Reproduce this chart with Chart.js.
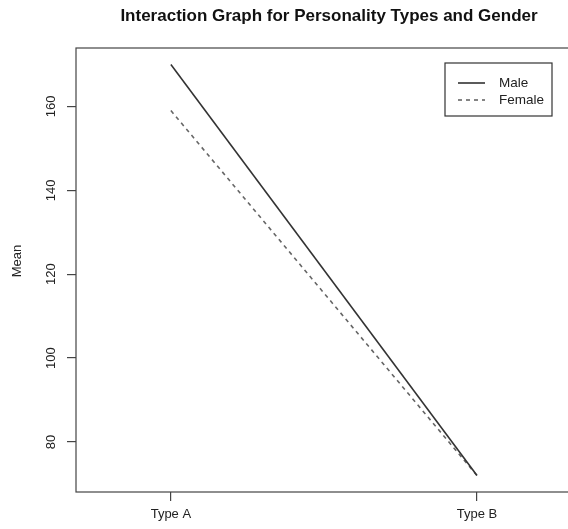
<!DOCTYPE html>
<html>
<head>
<meta charset="utf-8">
<title>Interaction Graph</title>
<script src="https://cdn.jsdelivr.net/npm/chart.js@4"></script>
<style>
  html, body { margin: 0; padding: 0; background: #fff; overflow: hidden; }
  .wrap { width: 568px; height: 529px; overflow: hidden; position: relative; }
  .wrap canvas { position: absolute; left: 0; top: 0; }
</style>
</head>
<body>
<div class="wrap"><canvas id="chart" width="600" height="529"></canvas></div>
<script>
const categories = ["Type A", "Type B"];
const seriesNames = ["Male", "Female"];
const maleMeans = [170, 72];
const femaleMeans = [159, 72];
const yTicks = [80, 100, 120, 140, 160];

const FONT = "'Liberation Sans', Arial, Helvetica, sans-serif";
const INK = "#222";

const toPoints = (values) => values.map((v, i) => ({ x: i + 1, y: v }));

// R-style extras: box, rotated y labels, axis title, legend
const rStyle = {
  id: "rStyle",
  afterDraw(chart) {
    const { ctx, chartArea: a, scales } = chart;
    ctx.save();

    ctx.strokeStyle = "#444";
    ctx.lineWidth = 1.2;
    ctx.strokeRect(a.left, a.top, a.right - a.left, a.bottom - a.top);

    ctx.fillStyle = INK;
    ctx.font = `13px ${FONT}`;
    ctx.textAlign = "center";
    ctx.textBaseline = "middle";
    scales.y.ticks.forEach((t) => {
      const y = scales.y.getPixelForValue(t.value);
      ctx.save();
      ctx.translate(51, y);
      ctx.rotate(-Math.PI / 2);
      ctx.fillText(String(t.value), 0, 0);
      ctx.restore();
    });

    ctx.save();
    ctx.translate(17, 261);
    ctx.rotate(-Math.PI / 2);
    ctx.fillText("Mean", 0, 0);
    ctx.restore();

    // legend, top right inside the plot
    const lx = a.right - 137, ly = a.top + 15, lw = 107, lh = 53;
    ctx.fillStyle = "#fff";
    ctx.fillRect(lx, ly, lw, lh);
    ctx.strokeStyle = "#333";
    ctx.lineWidth = 1.2;
    ctx.strokeRect(lx, ly, lw, lh);

    chart.data.datasets.forEach((ds, i) => {
      const y = ly + 20 + i * 17;
      ctx.strokeStyle = ds.borderColor;
      ctx.lineWidth = ds.borderWidth;
      ctx.setLineDash(ds.borderDash || []);
      ctx.beginPath();
      ctx.moveTo(lx + 13, y);
      ctx.lineTo(lx + 40, y);
      ctx.stroke();
      ctx.setLineDash([]);
      ctx.fillStyle = INK;
      ctx.font = `13.5px ${FONT}`;
      ctx.textAlign = "left";
      ctx.fillText(ds.label, lx + 54, y);
    });

    ctx.restore();
  }
};

new Chart(document.getElementById("chart"), {
  type: "line",
  data: {
    datasets: [
      {
        label: seriesNames[0],
        data: toPoints(maleMeans),
        borderColor: "#333",
        borderWidth: 1.6,
        pointRadius: 0,
        fill: false
      },
      {
        label: seriesNames[1],
        data: toPoints(femaleMeans),
        borderColor: "#666",
        borderWidth: 1.6,
        borderDash: [4, 4],
        pointRadius: 0,
        fill: false
      }
    ]
  },
  options: {
    responsive: false,
    animation: false,
    layout: { padding: { right: 18 } },
    plugins: {
      legend: { display: false },
      tooltip: { enabled: false },
      title: {
        display: true,
        fullSize: false,
        text: "Interaction Graph for Personality Types and Gender",
        color: "#111",
        font: { family: FONT, size: 17, weight: "bold", lineHeight: 1.2 },
        padding: { top: 6.6, bottom: 21 }
      }
    },
    scales: {
      x: {
        type: "linear",
        min: 0.69,
        max: 2.343,
        afterBuildTicks: (s) => { s.ticks = categories.map((c, i) => ({ value: i + 1 })); },
        afterFit: (s) => { s.height = 37; },
        ticks: {
          callback: (v) => categories[v - 1],
          autoSkip: false,
          maxRotation: 0,
          padding: 5.5,
          color: INK,
          font: { family: FONT, size: 13 }
        },
        grid: { drawOnChartArea: false, tickLength: 9, color: "#444", lineWidth: 1.2 },
        border: { display: false }
      },
      y: {
        min: 68.08,
        max: 173.92,
        afterBuildTicks: (s) => { s.ticks = yTicks.map((v) => ({ value: v })); },
        afterFit: (s) => { s.width = 76; },
        ticks: { display: false },
        grid: { drawOnChartArea: false, tickLength: 9, color: "#444", lineWidth: 1.2 },
        border: { display: false }
      }
    }
  },
  plugins: [rStyle]
});
</script>
</body>
</html>
